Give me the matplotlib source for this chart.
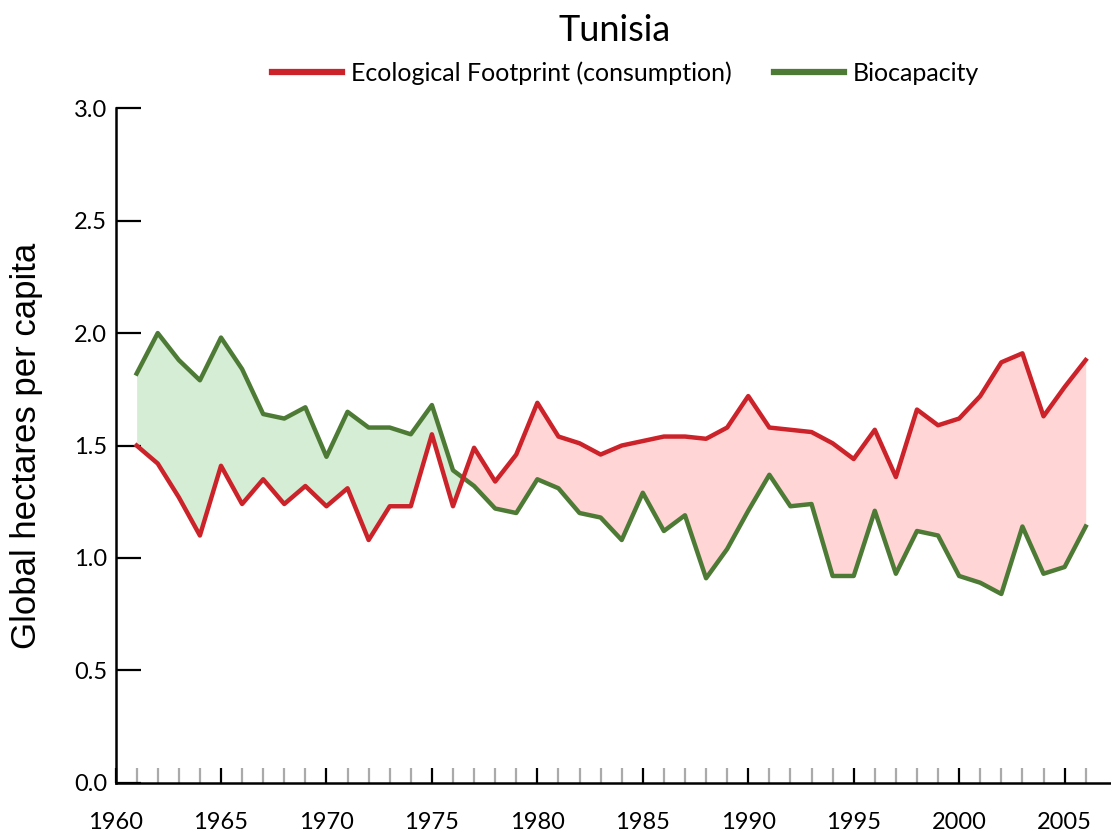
import numpy as np
import matplotlib.pyplot as plt
from matplotlib.ticker import MultipleLocator, FixedLocator

# values (global hectares per capita)
years = list(range(1961, 2007))
footprint = [1.50, 1.42, 1.27, 1.10, 1.41, 1.24, 1.35, 1.24, 1.32, 1.23,
             1.31, 1.08, 1.23, 1.23, 1.55, 1.23, 1.49, 1.34, 1.46, 1.69,
             1.54, 1.51, 1.46, 1.50, 1.52, 1.54, 1.54, 1.53, 1.58, 1.72,
             1.58, 1.57, 1.56, 1.51, 1.44, 1.57, 1.36, 1.66, 1.59, 1.62,
             1.72, 1.87, 1.91, 1.63, 1.76, 1.88]
biocapacity = [1.82, 2.00, 1.88, 1.79, 1.98, 1.84, 1.64, 1.62, 1.67, 1.45,
               1.65, 1.58, 1.58, 1.55, 1.68, 1.39, 1.32, 1.22, 1.20, 1.35,
               1.31, 1.20, 1.18, 1.08, 1.29, 1.12, 1.19, 0.91, 1.04, 1.21,
               1.37, 1.23, 1.24, 0.92, 0.92, 1.21, 0.93, 1.12, 1.10, 0.92,
               0.89, 0.84, 1.14, 0.93, 0.96, 1.14]

red = '#cc2229'
green = '#4d7a35'
label_font = 'Lato'

x = np.array(years)
ef = np.array(footprint)
bc = np.array(biocapacity)

fig = plt.figure(figsize=(11.11, 8.32), dpi=100)
ax = fig.add_axes([0.104, 0.059, 0.896, 0.811])

# reserve (green) and deficit (red) areas
ax.fill_between(x, ef, bc, where=bc >= ef, interpolate=True, color='#d5ecd5', lw=0)
ax.fill_between(x, ef, bc, where=ef >= bc, interpolate=True, color='#ffd5d5', lw=0)

ax.plot(x, bc, color=green, lw=3.2, label='Biocapacity')
ax.plot(x, ef, color=red, lw=3.2, label='Ecological Footprint (consumption)')

ax.set_xlim(1960, 2007.2)
ax.set_ylim(0, 3.0)

for s in ['top', 'right']:
    ax.spines[s].set_visible(False)
for s in ['left', 'bottom']:
    ax.spines[s].set_linewidth(1.8)

ax.yaxis.set_major_locator(MultipleLocator(0.5))
ax.yaxis.set_major_formatter(plt.FuncFormatter(lambda v, p: f'{v:.1f}'))
ax.tick_params(axis='y', direction='in', length=18, width=1.6, pad=6,
               labelsize=17)

ax.xaxis.set_major_locator(MultipleLocator(5))
minor = [y for y in range(1961, 2007) if y % 5 != 0]
ax.xaxis.set_minor_locator(FixedLocator(minor))
ax.tick_params(axis='x', which='major', direction='in', length=11, width=1.6,
               pad=21, labelsize=17)
ax.tick_params(axis='x', which='minor', direction='in', length=11, width=1.6,
               color='#aaaaaa')

for lab in ax.get_xticklabels() + ax.get_yticklabels():
    lab.set_fontfamily(label_font)

ax.set_ylabel('Global hectares per capita', fontsize=25,
              family='Liberation Sans', labelpad=22)

fig.text(0.553, 0.963, 'Tunisia', ha='center', va='center', fontsize=26,
         family=label_font)

handles, labels = ax.get_legend_handles_labels()
leg = fig.legend(handles[::-1], labels[::-1], loc='center', ncol=2,
                 bbox_to_anchor=(0.563, 0.912), frameon=False,
                 prop={'family': label_font, 'size': 18},
                 handlelength=2.8, handletextpad=0.35, columnspacing=1.7)
for line in leg.get_lines():
    line.set_linewidth(4.5)

fig.savefig('out.png', dpi=100)
